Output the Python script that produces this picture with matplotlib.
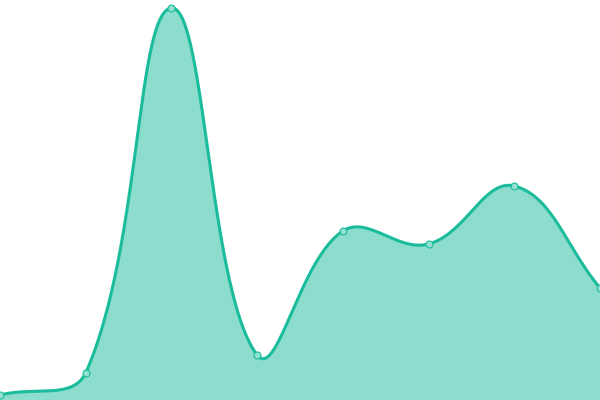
import matplotlib
matplotlib.use("Agg")
import matplotlib.pyplot as plt
import numpy as np

# data (no axes are shown)
labels = ["A", "B", "C", "D", "E", "F", "G", "H"]
values = [5, 27, 392, 45, 169, 156, 214, 112]

line_color = "#1abc9c"
fill_color = (26 / 255, 188 / 255, 156 / 255, 0.5)
marker_face = "#93e0d2"
tension = 0.4

fig = plt.figure(figsize=(6, 4), dpi=100)
ax = fig.add_axes([0, 0, 1, 1])
ax.set_xlim(0, len(labels) - 1)
ax.set_ylim(0, 400)
ax.axis("off")

xs = np.arange(len(labels))
pts = ax.transData.transform(np.column_stack([xs, values]))
W, H = fig.bbox.width, fig.bbox.height


def control_points(p):
    # spline control points like a canvas chart lib does (tension + capped to area)
    n = len(p)
    prev_cp = [None] * n
    next_cp = [None] * n
    for i in range(n):
        cur = p[i]
        prv = p[i - 1] if i > 0 else cur
        nxt = p[i + 1] if i < n - 1 else cur
        d01 = np.hypot(*(cur - prv))
        d12 = np.hypot(*(nxt - cur))
        tot = d01 + d12
        s01 = d01 / tot if tot else 0
        s12 = d12 / tot if tot else 0
        fa = tension * s01
        fb = tension * s12
        prev_cp[i] = cur - fa * (nxt - prv)
        next_cp[i] = cur + fb * (nxt - prv)
    for cp in prev_cp + next_cp:
        cp[0] = min(max(cp[0], 0), W)
        cp[1] = min(max(cp[1], 0), H)
    return prev_cp, next_cp


prev_cp, next_cp = control_points(pts)
t = np.linspace(0, 1, 60)[:, None]
curve = []
for i in range(len(pts) - 1):
    p0, p1, p2, p3 = pts[i], next_cp[i], prev_cp[i + 1], pts[i + 1]
    seg = ((1 - t) ** 3) * p0 + 3 * ((1 - t) ** 2) * t * p1 + 3 * (1 - t) * t ** 2 * p2 + t ** 3 * p3
    curve.append(seg if i == 0 else seg[1:])
curve = ax.transData.inverted().transform(np.vstack(curve))

ax.fill_between(curve[:, 0], curve[:, 1], 0, color=fill_color, linewidth=0)
ax.plot(curve[:, 0], curve[:, 1], color=line_color, linewidth=2.2, solid_capstyle="round")
ax.plot(xs, values, "o", markersize=5, markerfacecolor=marker_face,
        markeredgecolor=line_color, markeredgewidth=0.8, clip_on=False)

fig.savefig("out.png", dpi=100)
